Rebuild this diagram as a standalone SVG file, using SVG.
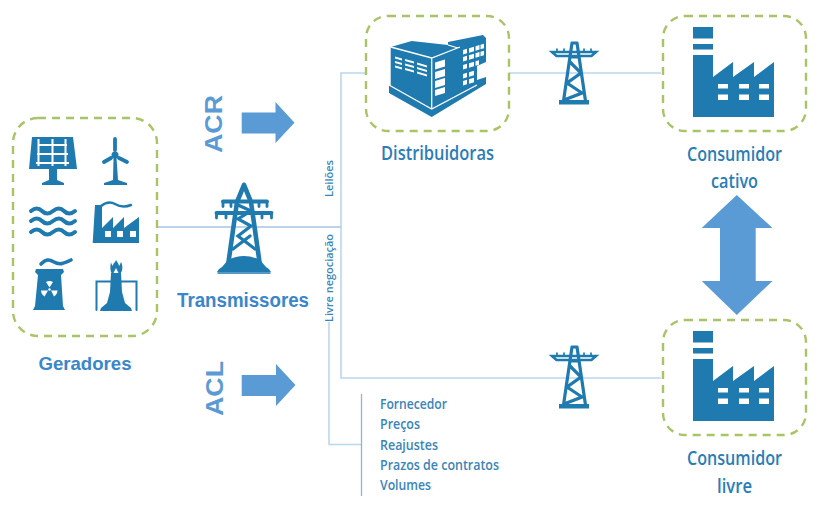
<svg xmlns="http://www.w3.org/2000/svg" width="820" height="506" viewBox="0 0 820 506">
<style>
.box{fill:none;stroke:#a9c467;stroke-width:2.4;stroke-dasharray:8 6}
.ic{fill:#1f7ab0}
.ln{fill:none;stroke:#1f7ab0;stroke-linecap:round}
.w{fill:#fff}
.wl{fill:none;stroke:#fff}
.c{fill:none;stroke:#bcd6ee;stroke-width:1.600}
.arr{fill:#5b9bd5}
.lab{font-family:"Liberation Sans",Arial,sans-serif;font-weight:700;fill:#3a86cc}
.cond{font-family:"Open Sans","Liberation Sans",sans-serif;font-weight:600;fill:#2a7db5}
.big{font-size:20.500px}
.sm{font-size:14.500px;fill:#3a85b8}
</style>
<defs>
<g id="fac">
<path class="ic" d="M693 27h20v11.500h-20zM693 44h20v5.500h-20zM693 55h20v22l20-15v15l21-15v15l20-15v55h-81z"/>
<path class="w" d="M718 84h10v4.500h-10zM739 84h10v4.500h-10zM759 84h10v4.500h-10zM718 94.500h10v5.500h-10zM739 94.500h10v5.500h-10zM759 94.500h10v5.500h-10z"/>
</g>
<g id="pyl">
<path class="ln" fill="none" stroke-width="3.200" d="M572 43L563.500 101M577 43L585.500 101M572 43H577M571 57H578M570 62L581 73L567 83L582 93L564 100"/>
<path class="ic" d="M559 100h30v4.500h-30z"/>
<path class="ln" stroke-width="2.600" d="M552 52h44l-4.500 4h-35z"/>
<path class="ln" stroke-width="1.700" d="M557 52v-3M564 52v-3M584 52v-3M591 52v-3"/>
</g>
</defs>
<g id="connectors">
<path class="c" d="M365 73H341V378H661M509 73H661M329 322V444.500H361"/>
<path d="M157 227H341" fill="none" stroke="#a9c3e6" stroke-width="1.600"/>
<path d="M361.500 394V496" fill="none" stroke="#8db4d6" stroke-width="1.300"/>
</g>
<g id="geradores">
<rect class="box" x="13" y="118" width="144" height="218" rx="25"/>
<path class="ic" d="M32 137h41l4 32H29zM49 169h8v11l7 3v2H42v-2l7-3z"/>
<path class="wl" stroke-width="2" d="M38 145H67M37 154H68M36 163H69M38.500 139V166M52.500 139V166M65.500 139V166"/>
<path class="ln" stroke-width="3.800" d="M115 139V150M104 162L111 158M127 162L119 158"/>
<path class="ic" d="M113.500 158h3l1.500 22 9 3v2h-23v-2l9-3z"/>
<circle class="ic" cx="115" cy="155" r="3.500"/>
<path class="ln" stroke-width="4" d="M31 211q6-5 11 0t11 0t11 0t11 0M31 221q6-5 11 0t11 0t11 0t11 0M31 232q6-5 11 0t11 0t11 0t11 0"/>
<path class="ic" d="M95 205h7v23l11-11v11l11-11v11l15-11v26H92.700z"/>
<path class="w" d="M105 231h6v6h-6zM117 231h6v6h-6zM130 231h6v6h-6z"/>
<path class="ln" stroke-width="2.500" d="M101 206c5-4 9-5 14-2s11 3 16 1"/>
<path class="ic" d="M36 269h27l1 3-3 3 2 31 2 4H33l2-4 3-31-3-3z"/>
<path class="ln" stroke-width="3.600" d="M41 264c5-5 8-5 13-2s9 2 17-2"/>
<path class="w" d="M49.500 287.500l-3.500-5.500a7.500 7.500 0 0 1 7 0zM51 290.500h6.500a7.500 7.500 0 0 1-3.500 6zM48 290.500l-3.500 6a7.500 7.500 0 0 1-3.500-6z"/>
<circle class="w" cx="49.500" cy="289.500" r="1.200"/>
<path class="ln" stroke-width="2" d="M96.500 310V281.500H136.500V310"/>
<path class="ic" d="M111 273h10l1 19 3 11 6 5 1 3H100l1-3 6-5 3-11z"/>
<path class="ic" d="M116 260c-1 3-3 3-3 6-2-2-2-4-2-4-1 4-1 9 1 12h8c3-3 3-8 1-12-1 2-1 3-2 4 0-2-2-4-3-6z"/>
<path class="w" d="M116 268l2.500 5h-5z"/>
</g>
<g id="geradores-label"><text class="lab" x="85" y="370" font-size="18.500" text-anchor="middle" textLength="93" lengthAdjust="spacingAndGlyphs">Geradores</text></g>
<g id="transmissores">
<path class="ln" fill="none" stroke-width="4.600" stroke-linejoin="round" d="M244 185L237 202L228.500 262M244 185L251 202L259.500 262"/>
<path class="ln" stroke-width="3.200" d="M238 205L251 211L238 219L251 226L238 236L255 249M250 236L233 249"/>
<path class="ic" d="M217 272q1-3 5-5l6-7q16-8 32 0l6 7q4 2 5 5z"/>
<path class="ln" stroke-width="1.500" d="M218 273H270"/>
<path class="ln" stroke-width="3.800" d="M223 201.500h44M216.500 213h55"/>
<path class="ln" stroke-width="2.800" d="M223 201.500v5M231 201.500v5M259 201.500v5M267 201.500v5M216.500 213v5M226 213v5M262 213v5M271.500 213v5"/>
<text class="lab" x="243" y="307" font-size="20" text-anchor="middle" textLength="132" lengthAdjust="spacingAndGlyphs">Transmissores</text>
</g>
<g id="acr">
<text class="lab" style="fill:#5b9bd5" font-size="24" transform="translate(222 153) rotate(-90)" textLength="58" lengthAdjust="spacingAndGlyphs">ACR</text>
<path class="arr" d="M241.700 112.500H275.500V102L294.500 122.700 275.500 143V133.500H241.700z"/>
</g>
<g id="acl">
<text class="lab" style="fill:#5b9bd5" font-size="24" transform="translate(222.700 416) rotate(-90)" textLength="55" lengthAdjust="spacingAndGlyphs">ACL</text>
<path class="arr" d="M241.700 375H276V364L295.500 385 276 406V396H241.700z"/>
</g>
<g id="labels-vert">
<text class="cond sm" style="font-size:11.500px" transform="translate(333 197) rotate(-90)" textLength="37" lengthAdjust="spacingAndGlyphs">Leilões</text>
<text class="cond sm" style="font-size:11.500px" transform="translate(333 322) rotate(-90)" textLength="88" lengthAdjust="spacingAndGlyphs">Livre negociação</text>
</g>
<g id="distribuidoras">
<rect class="box" x="366" y="16" width="143" height="115" rx="22"/>
<path class="ic" d="M390.700 47L411.700 41L448 45V42L483 35L486 38V62L477 66V80L486 77V84L431.700 117L389 93V85L390.700 85.500z"/>
<path class="wl" stroke-width="1.300" d="M390.700 47L431.700 58L460 47M431.700 58V108M389 85L431.700 109L477 85M448 45L458 48"/>
<path class="w" d="M435 62.500l10-3v7l-10 3zM435 72l10-3v7l-10 3zM435 81l10-3v7l-10 3zM435 90l10-3v6l-10 3z"/>
<path class="w" d="M395 56.500l7 2v2l-7-2zM395 61l7 2v2l-7-2zM395 65.500l7 2v2l-7-2zM405 59l9 2.500v2l-9-2.500zM405 63.500l9 2.500v2l-9-2.500zM405 68l9 2.500v2l-9-2.500zM417 62.500l10 3v2l-10-3zM417 67l10 3v2l-10-3zM417 71.500l10 3v2l-10-3z"/>
<path class="w" d="M463 50l4-1.200v4.500l-4 1.200zM469 48.200l5-1.500v4.500l-5 1.500zM475.500 46.300l4-1.200v4.500l-4 1.200zM480.500 44.800l3.500-1v4.500l-3.500 1zM463 57l4-1.200v4.500l-4 1.200zM469 55.200l5-1.500v4.500l-5 1.500zM475.500 53.300l4-1.200v4.500l-4 1.200zM480.500 51.800l3.500-1v4.500l-3.500 1zM463 65l4-1.200v4.500l-4 1.200zM469 63.200l5-1.500v4.500l-5 1.500zM475.500 61.300l3.500-1v4.500l-3.500 1zM463 74l4-1.200v4.500l-4 1.200zM469 72.200l5-1.500v4.500l-5 1.500zM463 81l4-1.200v4.500l-4 1.200zM469 79.200l5-1.500v4.500l-5 1.500z"/>
<text class="cond big" x="437.500" y="160" text-anchor="middle" textLength="113" lengthAdjust="spacingAndGlyphs">Distribuidoras</text>
</g>
<g id="pylon-top"><use href="#pyl"/></g>
<g id="pylon-bottom"><use href="#pyl" y="304"/></g>
<g id="consumidor-cativo">
<rect class="box" x="663" y="16" width="143" height="115" rx="22"/>
<use href="#fac"/>
<text class="cond big" x="734.500" y="161" text-anchor="middle" textLength="95" lengthAdjust="spacingAndGlyphs">Consumidor</text>
<text class="cond big" x="734.500" y="188" text-anchor="middle" textLength="47" lengthAdjust="spacingAndGlyphs">cativo</text>
</g>
<g id="consumidor-livre">
<rect class="box" x="663" y="320" width="143" height="115" rx="22"/>
<use href="#fac" y="304"/>
<text class="cond big" x="734.500" y="465" text-anchor="middle" textLength="95" lengthAdjust="spacingAndGlyphs">Consumidor</text>
<text class="cond big" x="734.500" y="493" text-anchor="middle" textLength="35" lengthAdjust="spacingAndGlyphs">livre</text>
</g>
<g id="duplo"><path class="arr" d="M736.800 195L772.500 228H755.700V281H772.500L736.800 315 701.700 281H720V228H701.700z"/></g>
<g id="lista">
<text class="cond sm" x="380" y="409" textLength="67" lengthAdjust="spacingAndGlyphs">Fornecedor</text>
<text class="cond sm" x="380" y="429" textLength="40" lengthAdjust="spacingAndGlyphs">Preços</text>
<text class="cond sm" x="380" y="449.500" textLength="58" lengthAdjust="spacingAndGlyphs">Reajustes</text>
<text class="cond sm" x="380" y="470" textLength="119" lengthAdjust="spacingAndGlyphs">Prazos de contratos</text>
<text class="cond sm" x="380" y="490" textLength="51" lengthAdjust="spacingAndGlyphs">Volumes</text>
</g>
</svg>
